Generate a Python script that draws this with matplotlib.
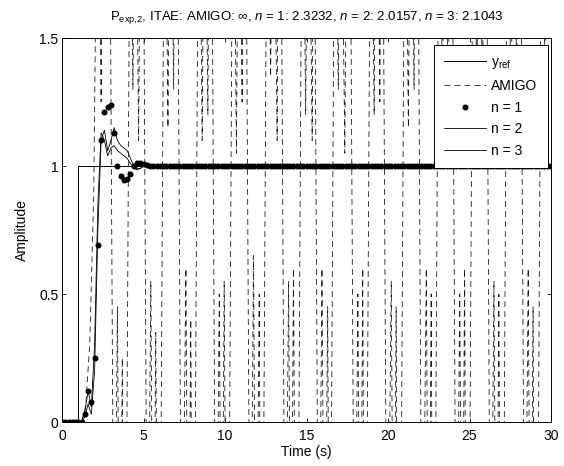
import numpy as np
import matplotlib.pyplot as plt

plt.rcParams['font.family'] = ['Liberation Sans', 'DejaVu Sans']
plt.rcParams['mathtext.fontset'] = 'custom'
plt.rcParams['mathtext.rm'] = 'Liberation Sans'
plt.rcParams['mathtext.it'] = 'Liberation Sans:italic'
plt.rcParams['font.size'] = 10

# reference step
yref_t = [0, 1, 1, 30]
yref_y = [0, 0, 1, 1]

# AMIGO response (unstable, runs far outside the plotted range)
amigo_t = [0, 1.2, 1.45, 1.7, 1.95, 2.2,
           2.4, 2.55, 2.9, 3.2, 3.4, 3.55, 3.7, 3.8,
           3.9, 4.2, 4.35, 4.5, 4.7, 4.85, 4.95, 5.25, 5.45, 5.6, 5.75, 5.9,
           6.0, 6.3, 6.5, 6.65, 6.85, 6.95, 7.05, 7.35, 7.6, 7.75, 7.9, 8.0,
           8.1, 8.4, 8.6, 8.75, 8.95, 9.05, 9.15, 9.45, 9.65, 9.8, 9.95, 10.1,
           10.2, 10.5, 10.7, 10.85, 11.05, 11.15, 11.25, 11.55, 11.75, 11.9, 12.1, 12.2,
           12.3, 12.6, 12.8, 12.95, 13.2, 13.3, 13.4, 13.7, 13.9, 14.05, 14.2, 14.35,
           14.45, 14.75, 14.95, 15.1, 15.35, 15.45, 15.45, 15.75, 15.95, 16.1, 16.3, 16.4,
           16.45, 16.75, 16.95, 17.1, 17.35, 17.5, 17.65, 17.95, 18.15, 18.3, 18.45, 18.55,
           18.65, 18.95, 19.15, 19.3, 19.5, 19.6, 19.65, 19.95, 20.2, 20.35, 20.5, 20.6,
           20.75, 21.05, 21.25, 21.4, 21.6, 21.7, 21.8, 22.1, 22.35, 22.5, 22.65, 22.75,
           22.85, 23.15, 23.35, 23.5, 23.7, 23.8, 23.9, 24.2, 24.4, 24.55, 24.7, 24.8,
           24.95, 25.25, 25.45, 25.6, 25.8, 25.9, 26.0, 26.3, 26.5, 26.65, 26.8, 26.9,
           27.05, 27.35, 27.55, 27.7, 27.9, 28.0, 28.1, 28.4, 28.6, 28.75, 28.9, 29.0,
           29.15, 29.45, 29.65, 29.8, 30.0]
amigo_y = [0, 0, 0.06, 0.3, 0.9, 2.5,
           1.25, 2.5, 2.5, -1.0, 0.45, -1.0, 0.25, -1.0,
           -1.0, 2.5, 1.3, 2.5, 1.1, 2.5, 2.5, -1.0, 0.55, -1.0, 0.35, -1.0,
           -1.0, 2.5, 1.15, 2.5, 1.3, 2.5, 2.5, -1.0, 0.6, -1.0, 0.4, -1.0,
           -1.0, 2.5, 1.1, 2.5, 1.2, 2.5, 2.5, -1.0, 0.5, -1.0, 0.55, -1.0,
           -1.0, 2.5, 1.05, 2.5, 1.25, 2.5, 2.5, -1.0, 0.65, -1.0, 0.5, -1.0,
           -1.0, 2.5, 1.35, 2.5, 1.1, 2.5, 2.5, -1.0, 0.55, -1.0, 0.6, -1.0,
           -1.0, 2.5, 1.2, 2.5, 1.1, 2.5, 2.5, -1.0, 0.6, -1.0, 0.45, -1.0,
           -1.0, 2.5, 1.3, 2.5, 1.05, 2.5, 2.5, -1.0, 0.5, -1.0, 0.6, -1.0,
           -1.0, 2.5, 1.2, 2.5, 1.25, 2.5, 2.5, -1.0, 0.55, -1.0, 0.45, -1.0,
           -1.0, 2.5, 1.15, 2.5, 1.3, 2.5, 2.5, -1.0, 0.6, -1.0, 0.5, -1.0,
           -1.0, 2.5, 1.2, 2.5, 1.1, 2.5, 2.5, -1.0, 0.5, -1.0, 0.6, -1.0,
           -1.0, 2.5, 1.25, 2.5, 1.15, 2.5, 2.5, -1.0, 0.55, -1.0, 0.5, -1.0,
           -1.0, 2.5, 1.1, 2.5, 1.3, 2.5, 2.5, -1.0, 0.6, -1.0, 0.45, -1.0,
           -1.0, 2.5, 1.2, 2.5, 2.5]

# n = 1, sampled every 0.2 s from t = 0 to 30
n1_y = [0, 0, 0, 0, 0, 0, 0, 0.03, 0.12, 0.08, 0.25, 0.69, 1.10, 1.21, 1.23,
        1.24, 1.13, 1.00, 0.96, 0.945, 0.95, 0.97, 1.00, 1.01, 1.012, 1.008,
        1.003, 1.000, 0.999, 0.999, 1.000, 1.001, 1.001, 1.000, 0.999, 0.999,
        0.999, 1.000, 1.001, 1.001, 1.001, 1.000, 0.999, 0.999, 1.000, 1.001,
        1.001, 1.001, 1.000, 0.999, 0.999, 0.999, 1.000, 1.001, 1.001, 1.001,
        1.000, 0.999, 0.999, 1.000, 1.001, 1.001, 1.001, 1.000, 0.999, 0.999,
        0.999, 1.000, 1.001, 1.001, 1.001, 1.000, 0.999, 0.999, 1.000, 1.001,
        1.001, 1.001, 1.000, 0.999, 0.999, 0.999, 1.000, 1.001, 1.001, 1.001,
        1.000, 0.999, 0.999, 1.000, 1.001, 1.001, 1.001, 1.000, 0.999, 0.999,
        0.999, 1.000, 1.001, 1.001, 1.001, 1.000, 0.999, 0.999, 1.000, 1.001,
        1.001, 1.001, 1.000, 0.999, 0.999, 0.999, 1.000, 1.001, 1.001, 1.001,
        1.000, 0.999, 0.999, 1.000, 1.001, 1.001, 1.001, 1.000, 0.999, 0.999,
        0.999, 1.000, 1.001, 1.001, 1.001, 1.000, 0.999, 0.999, 1.000, 1.001,
        1.001, 1.001, 1.000, 0.999, 0.999, 0.999, 1.000, 1.001, 1.001, 1.000,
        0.999, 0.999, 0.999, 1.000, 1.001]
n1_t = np.arange(len(n1_y)) * 0.2

# n = 2 and n = 3
n2_t = [0, 1.2, 1.4, 1.6, 1.8, 2.0, 2.2, 2.4, 2.6, 2.8, 3.0, 3.2, 3.4, 3.6,
        3.8, 4.0, 4.2, 4.4, 4.6, 4.8, 5.0, 5.2, 5.4, 30]
n2_y = [0, 0, 0.02, 0.07, 0.03, 0.20, 0.75, 1.10, 1.14, 1.06, 1.10, 1.15,
        1.10, 1.08, 1.07, 1.06, 1.03, 1.00, 0.99, 0.99, 1.00, 1.005, 1.0, 1.0]
n3_t = [0, 1.2, 1.4, 1.6, 1.8, 2.0, 2.2, 2.4, 2.6, 2.8, 3.0, 3.2, 3.4, 3.6,
        3.8, 4.0, 4.2, 4.4, 4.6, 4.8, 5.0, 5.2, 30]
n3_y = [0, 0, 0.04, 0.12, 0.06, 0.30, 0.85, 1.13, 1.10, 1.04, 1.07, 1.08,
        1.06, 1.05, 1.04, 1.03, 1.01, 0.995, 0.985, 0.99, 1.0, 1.0, 1.0]

fig = plt.figure(figsize=(5.64, 4.66), dpi=100)
ax = fig.add_axes([62 / 564, 44 / 466, 489 / 564, 384 / 466])

ax.plot(yref_t, yref_y, color='k', lw=0.7, label=r'y$_{\mathrm{ref}}$')
ax.plot(amigo_t, amigo_y, color='#1a1a1a', lw=0.6, linestyle=(0, (7, 5)), label='AMIGO')
ax.plot(n1_t, n1_y, linestyle='none', marker='o', ms=3.3, color='k', label='n = 1')
ax.plot(n2_t, n2_y, color='k', lw=0.6, label='n = 2')
ax.plot(n3_t, n3_y, color='k', lw=0.6, label='n = 3')

ax.set_xlim(0, 30)
ax.set_ylim(0, 1.5)
ax.set_xticks([0, 5, 10, 15, 20, 25, 30])
ax.set_yticks([0, 0.5, 1, 1.5])
ax.set_yticklabels(['0', '0.5', '1', '1.5'])
ax.tick_params(direction='in', top=True, right=True, length=3, width=0.6)
ax.tick_params(axis='x', pad=5)
ax.tick_params(axis='y', pad=2.5)
for s in ax.spines.values():
    s.set_linewidth(0.7)

ax.set_xlabel('Time (s)', va='center')
ax.set_ylabel('Amplitude', va='center')
ax.xaxis.set_label_coords(0.5, -0.078)
ax.yaxis.set_label_coords(-0.082, 0.5)
ax.set_title(r'P$_{\mathrm{exp{,}2}}$, ITAE: AMIGO: ∞, $n$ = 1: 2.3232, $n$ = 2: 2.0157, $n$ = 3: 2.1043',
             fontsize=9.5, pad=13)

leg = ax.legend(loc='upper right', bbox_to_anchor=(0.994, 0.982), borderaxespad=0,
                fancybox=False, edgecolor='k', framealpha=1, numpoints=1,
                handlelength=3.0, handletextpad=0.4, labelspacing=0.55, borderpad=0.75)
leg.get_frame().set_linewidth(0.7)

fig.savefig('out.png', dpi=100)
